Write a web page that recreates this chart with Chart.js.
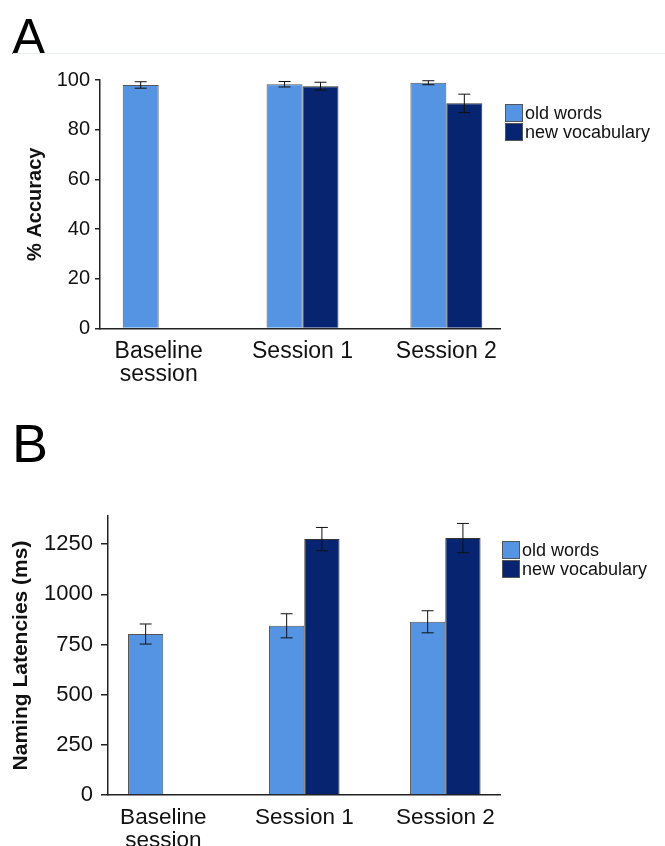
<!DOCTYPE html>
<html lang="en">
<head>
  <meta charset="UTF-8">
  <title>Accuracy and naming latencies</title>
  <script src="https://cdn.jsdelivr.net/npm/chart.js"></script>
  <style>
    body { margin: 0; background: #fff; font-family: "Liberation Sans", Arial, sans-serif; }
    .page { position: relative; width: 665px; height: 846px; overflow: hidden; }
    .panel-letter { position: absolute; left: 12px; line-height: 1; color: #000; }
    .rule { position: absolute; left: 13px; right: 0; top: 53px; height: 1px; background: #e9eef6; }
    .chart-box { position: absolute; left: 0; width: 665px; }
    .legend { position: absolute; font-size: 18px; color: #111; }
    .legend div { display: flex; align-items: center; height: 18px; margin-bottom: 1px; }
    .legend span.sw { width: 16px; height: 16px; border: 1px solid #555; margin-right: 2px; }
  </style>
</head>
<body>
<div class="page">
  <div class="panel-letter" style="top:12px; font-size:50px;">A</div>
  <div class="rule"></div>
  <div class="chart-box" style="top:0; height:400px;"><canvas id="chartA" width="665" height="400"></canvas></div>
  <div class="legend" id="legendA" style="left:505px; top:104px;"></div>

  <div class="panel-letter" style="top:416px; font-size:54px;">B</div>
  <div class="chart-box" style="top:410px; height:436px;"><canvas id="chartB" width="665" height="436"></canvas></div>
  <div class="legend" id="legendB" style="left:502px; top:541px;"></div>
</div>

<script>
  // categories (x tick labels)
  const categories = [["Baseline", "session"], "Session 1", "Session 2"];
  const seriesNames = ["old words", "new vocabulary"];
  const seriesColors = ["#5494e2", "#062470"];

  // Panel A: % accuracy
  const accOld = [98.0, 98.3, 98.9];
  const accOldErr = [1.3, 1.1, 0.8];
  const accNew = [null, 97.5, 90.6];
  const accNewErr = [null, 1.6, 3.7];
  const accTicks = [0, 20, 40, 60, 80, 100];

  // Panel B: naming latencies (ms)
  const latOld = [802, 843, 863];
  const latOldErr = [50, 60, 55];
  const latNew = [null, 1275, 1280];
  const latNewErr = [null, 58, 73];
  const latTicks = [0, 250, 500, 750, 1000, 1250];

  const FONT = "'Liberation Sans', Arial, sans-serif";

  // error bars drawn on top of the bars
  const errorBars = {
    id: "errorBars",
    afterDatasetsDraw(chart) {
      const ctx = chart.ctx;
      const y = chart.scales.y;
      chart.data.datasets.forEach((ds, d) => {
        const meta = chart.getDatasetMeta(d);
        meta.data.forEach((el, i) => {
          const v = ds.data[i].y, e = ds.errors[i];
          if (v == null || e == null) return;
          const top = y.getPixelForValue(v + e);
          const bot = y.getPixelForValue(v - e);
          const cap = 6;
          ctx.save();
          ctx.strokeStyle = "#111";
          ctx.lineWidth = 1;
          ctx.beginPath();
          ctx.moveTo(el.x, top); ctx.lineTo(el.x, bot);
          ctx.moveTo(el.x - cap, top); ctx.lineTo(el.x + cap, top);
          ctx.moveTo(el.x - cap, bot); ctx.lineTo(el.x + cap, bot);
          ctx.stroke();
          ctx.restore();
        });
      });
    }
  };

  function makeLegend(id) {
    const box = document.getElementById(id);
    seriesNames.forEach((name, i) => {
      const row = document.createElement("div");
      row.innerHTML = '<span class="sw" style="background:' + seriesColors[i] + '"></span>' + name;
      box.appendChild(row);
    });
  }

  function makeChart(id, cfg) {
    const toPts = arr => arr.map((v, i) => ({ x: i, y: v }));
    return new Chart(document.getElementById(id), {
      type: "bar",
      data: {
        datasets: [
          { label: seriesNames[0], data: toPts(cfg.old), errors: cfg.oldErr,
            backgroundColor: seriesColors[0], borderColor: "#555", borderWidth: 1 },
          { label: seriesNames[1], data: toPts(cfg.nw), errors: cfg.nwErr,
            backgroundColor: seriesColors[1], borderColor: "#333", borderWidth: 1 }
        ]
      },
      options: {
        responsive: false,
        animation: false,
        categoryPercentage: 0.5,
        barPercentage: 1,
        layout: { autoPadding: false, padding: { left: cfg.padLeft, top: cfg.top, right: 665 - cfg.right, bottom: 0 } },
        plugins: { legend: { display: false }, tooltip: { enabled: false } },
        scales: {
          x: {
            type: "linear",
            offset: false,
            min: cfg.xMin,
            max: cfg.xMax,
            grid: { display: false, drawTicks: false },
            border: { display: true, color: "#222", width: 1.5 },
            afterBuildTicks: s => { s.ticks = categories.map((c, i) => ({ value: i })); },
            afterFit: s => { s.height = cfg.height - cfg.bottom; },
            ticks: {
              autoSkip: false, maxRotation: 0, padding: cfg.xPad, color: "#111",
              font: { family: FONT, size: cfg.xFont, lineHeight: 1.0 },
              callback: v => categories[v]
            }
          },
          y: {
            min: 0,
            max: cfg.yMax,
            afterBuildTicks: s => { s.ticks = cfg.ticks.map(v => ({ value: v })); },
            afterFit: s => { s.width = cfg.left - cfg.padLeft; },
            grid: { drawOnChartArea: false, drawTicks: true, tickLength: cfg.tickLen, color: "#222", lineWidth: 1.5 },
            border: { display: true, color: "#222", width: 1.5 },
            ticks: { padding: cfg.tickPad, color: "#111", font: { family: FONT, size: cfg.yFont },
                     callback: v => String(v) },
            title: { display: true, text: cfg.title, color: "#111", padding: 0,
                     font: { family: FONT, size: cfg.titleFont, weight: "bold" } }
          }
        }
      },
      plugins: [errorBars]
    });
  }

  makeChart("chartA", {
    old: accOld, oldErr: accOldErr, nw: accNew, nwErr: accNewErr,
    ticks: accTicks, yMax: 100, title: "% Accuracy",
    height: 400, top: 80, bottom: 328.5, left: 100, right: 500, padLeft: 23,
    xMin: -0.408, xMax: 2.373, xFont: 23, yFont: 20, titleFont: 20, tickLen: 5, tickPad: 5, xPad: 12
  });

  makeChart("chartB", {
    old: latOld, oldErr: latOldErr, nw: latNew, nwErr: latNewErr,
    ticks: latTicks, yMax: 1390, title: "Naming Latencies (ms)",
    height: 436, top: 106, bottom: 385, left: 108, right: 500, padLeft: 9,
    xMin: -0.392, xMax: 2.388, xFont: 22.5, yFont: 22, titleFont: 21, tickLen: 7, tickPad: 8, xPad: 12
  });

  makeLegend("legendA");
  makeLegend("legendB");
</script>
</body>
</html>
